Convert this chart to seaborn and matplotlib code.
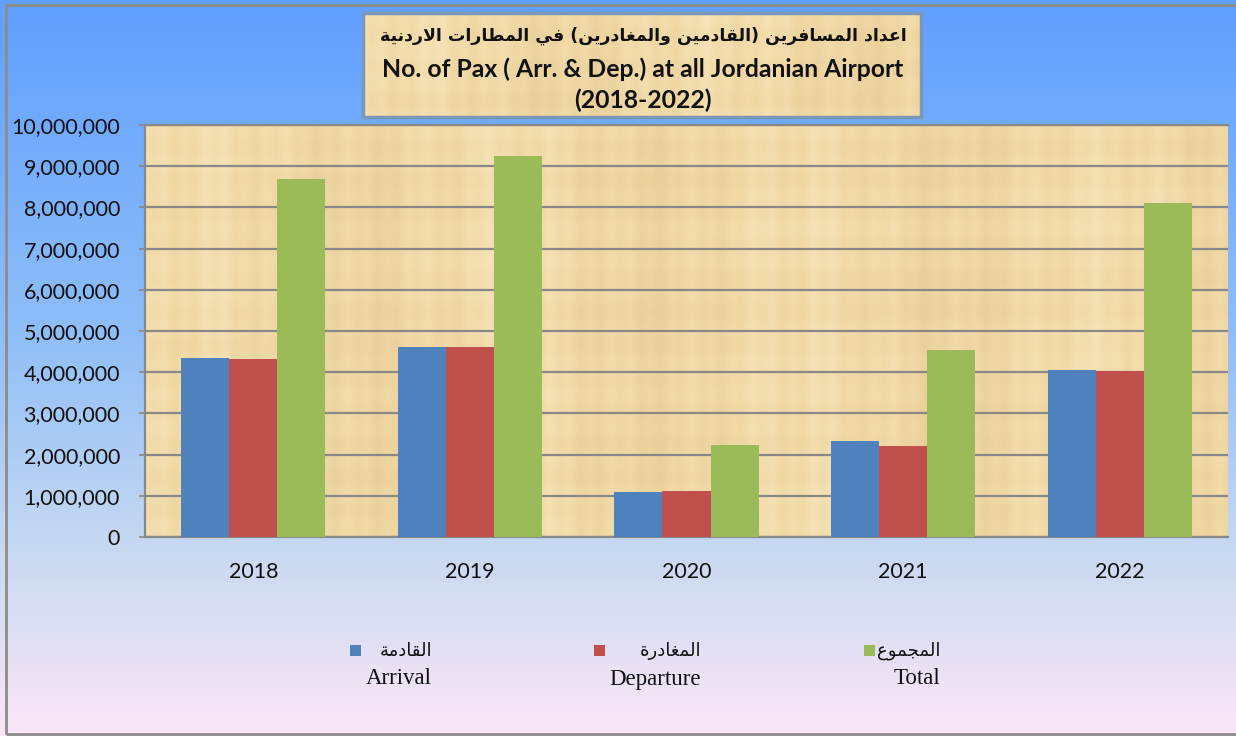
import numpy as np
import pandas as pd
import matplotlib
matplotlib.use("Agg")
import matplotlib.pyplot as plt
import seaborn as sns
from matplotlib.colors import LinearSegmentedColormap
from matplotlib.patches import Rectangle
from matplotlib.ticker import FuncFormatter

# chart data
years = ['2018', '2019', '2020', '2021', '2022']
arrival = [4340000, 4620000, 1090000, 2330000, 4060000]
departure = [4310000, 4610000, 1120000, 2210000, 4040000]
total = [8680000, 9240000, 2240000, 4550000, 8110000]
series_en = ['Arrival', 'Departure', 'Total']
series_ar = ['القادمة', 'المغادرة', 'المجموع']
colors = ['#4f81bd', '#c0504d', '#9bbb59']
y_ticks = list(range(0, 10_000_001, 1_000_000))

title_ar = 'اعداد المسافرين (القادمين والمغادرين) في المطارات الاردنية'
title_en = 'No. of Pax ( Arr. & Dep.) at all Jordanian Airport'
title_years = '(2018-2022)'

# --- minimal arabic shaping (matplotlib has no bidi / joining support) ---
FORMS = {
    'ا': ('\ufe8d', '\ufe8e', None, None),
    'د': ('\ufea9', '\ufeaa', None, None),
    'ر': ('\ufead', '\ufeae', None, None),
    'و': ('\ufeed', '\ufeee', None, None),
    'ة': ('\ufe93', '\ufe94', None, None),
    'ع': ('\ufec9', '\ufeca', '\ufecb', '\ufecc'),
    'غ': ('\ufecd', '\ufece', '\ufecf', '\ufed0'),
    'ل': ('\ufedd', '\ufede', '\ufedf', '\ufee0'),
    'م': ('\ufee1', '\ufee2', '\ufee3', '\ufee4'),
    'س': ('\ufeb1', '\ufeb2', '\ufeb3', '\ufeb4'),
    'ف': ('\ufed1', '\ufed2', '\ufed3', '\ufed4'),
    'ي': ('\ufef1', '\ufef2', '\ufef3', '\ufef4'),
    'ن': ('\ufee5', '\ufee6', '\ufee7', '\ufee8'),
    'ق': ('\ufed5', '\ufed6', '\ufed7', '\ufed8'),
    'ط': ('\ufec1', '\ufec2', '\ufec3', '\ufec4'),
    'ت': ('\ufe95', '\ufe96', '\ufe97', '\ufe98'),
    'ج': ('\ufe9d', '\ufe9e', '\ufe9f', '\ufea0'),
}


def shape_ar(text):
    out = []
    i = 0
    n = len(text)
    while i < n:
        ch = text[i]
        if ch not in FORMS:
            out.append(ch)
            i += 1
            continue
        prev = text[i - 1] if i > 0 else ''
        joins_prev = prev in FORMS and FORMS[prev][2] is not None
        if ch == 'ل' and i + 1 < n and text[i + 1] == 'ا':
            out.append('\ufefc' if joins_prev else '\ufefb')
            i += 2
            continue
        nxt = text[i + 1] if i + 1 < n else ''
        joins_next = FORMS[ch][2] is not None and nxt in FORMS
        iso, fin, ini, med = FORMS[ch]
        if joins_prev and joins_next:
            out.append(med)
        elif joins_prev:
            out.append(fin)
        elif joins_next:
            out.append(ini)
        else:
            out.append(iso)
        i += 1
    vis = ''.join(reversed(out))
    return vis.translate(str.maketrans('()', ')('))


def papyrus(h, w):
    # decorative texture for the plot area: vertical fibres + faint cross weave
    yy, xx = np.mgrid[0:h, 0:w]
    t = (0.30 * np.sin(xx * 0.021 + 0.4) + 0.22 * np.sin(xx * 0.093 + 1.3)
         + 0.18 * np.sin(xx * 0.31 + 2.0) + 0.12 * np.sin(yy * 0.19 + 0.7)
         + 0.10 * np.sin(yy * 0.047 + xx * 0.004))
    return t


sns.set_theme(style="white")
plt.rcParams['font.family'] = ['Lato', 'DejaVu Sans']

W, H = 1236, 736
fig = plt.figure(figsize=(W / 100, H / 100), dpi=100)

# background gradient
bg = fig.add_axes([0, 0, 1, 1], zorder=-10)
bg_cmap = LinearSegmentedColormap.from_list(
    'bg', [(0, '#5f9fff'), (0.45, '#8fbef8'), (0.75, '#c8d9f1'), (1, '#fce6f7')])
bg.imshow(np.linspace(0, 1, 256).reshape(-1, 1), aspect='auto', cmap=bg_cmap,
          extent=[0, 1, 0, 1], origin='upper')
bg.set_xlim(0, 1)
bg.set_ylim(0, 1)
bg.axis('off')
fig.add_artist(Rectangle((6 / W, 2 / H), 1.0, 1 - 7 / H, transform=fig.transFigure,
                         fill=False, ec='#8c8c8c', lw=2))

paper_cmap = LinearSegmentedColormap.from_list('paper', ['#e9cf99', '#f0d9a6', '#f6e3b8'])

# plot area
left, right, top, bottom = 145, 1228, 125, 537
rect = [left / W, 1 - bottom / H, (right - left) / W, (bottom - top) / H]
paper = fig.add_axes(rect, zorder=-5)
paper.imshow(papyrus(bottom - top, right - left), aspect='auto', cmap=paper_cmap)
paper.axis('off')

ax = fig.add_axes(rect, zorder=1)
ax.patch.set_alpha(0)

df = pd.DataFrame({
    'year': years * 3,
    'series': [s for s in series_en for _ in years],
    'value': arrival + departure + total,
})
sns.barplot(data=df, x='year', y='value', hue='series', hue_order=series_en,
            palette=colors, width=0.665, saturation=1, linewidth=0,
            legend=False, ax=ax, zorder=3)

ax.set_ylim(0, 10_000_000)
ax.set_yticks(y_ticks)
ax.yaxis.set_major_formatter(FuncFormatter(lambda v, p: f'{v:,.0f}'))
ax.set_xlabel('')
ax.set_ylabel('')
ax.set_axisbelow(True)
ax.yaxis.grid(True, color='#888888', lw=1.6)
for side in ['left', 'bottom', 'top']:
    ax.spines[side].set_color('#888888')
    ax.spines[side].set_linewidth(1.6)
ax.spines['right'].set_visible(False)
ax.tick_params(axis='y', length=4, width=1.2, color='#888888', pad=14,
               labelsize=15.5, labelcolor='#111111', left=True)
ax.tick_params(axis='x', length=0, pad=18, labelsize=15.5, labelcolor='#111111')

# title box
tb_l, tb_r, tb_t, tb_b = 363, 921, 13, 117
tbox = fig.add_axes([tb_l / W, 1 - tb_b / H, (tb_r - tb_l) / W, (tb_b - tb_t) / H], zorder=2)
tbox.imshow(papyrus(tb_b - tb_t, tb_r - tb_l), aspect='auto', cmap=paper_cmap)
tbox.set_xticks([])
tbox.set_yticks([])
for s in tbox.spines.values():
    s.set_color('#7b97b8')
    s.set_linewidth(2.5)

cx = 643 / W
fig.text(cx, 1 - 36 / H, shape_ar(title_ar), ha='center', va='center', fontsize=12.5,
         fontweight='bold', family=['DejaVu Sans'], color='#111111', zorder=5)
fig.text(cx, 1 - 69 / H, title_en, ha='center', va='center', fontsize=17.8,
         fontweight='bold', color='#111111', zorder=5)
fig.text(cx, 1 - 100 / H, title_years, ha='center', va='center', fontsize=17.8,
         fontweight='bold', color='#111111', zorder=5)

# legend drawn by hand (two-line labels, arabic over english)
marker_x = [350, 594, 864]
text_right = [432, 701, 940]
for mx, tr, c, ar, en in zip(marker_x, text_right, colors, series_ar, series_en):
    fig.add_artist(Rectangle((mx / W, 1 - 656 / H), 11 / W, 11 / H,
                             transform=fig.transFigure, fc=c, ec='none'))
    fig.text(tr / W, 1 - 651 / H, shape_ar(ar), ha='right', va='center',
             fontsize=13, family=['DejaVu Sans'], color='#111111')
    fig.text(tr / W, 1 - 679 / H, en, ha='right', va='center',
             fontsize=16.5, family=['Liberation Serif'], color='#111111')

fig.savefig('out.png', dpi=100)
